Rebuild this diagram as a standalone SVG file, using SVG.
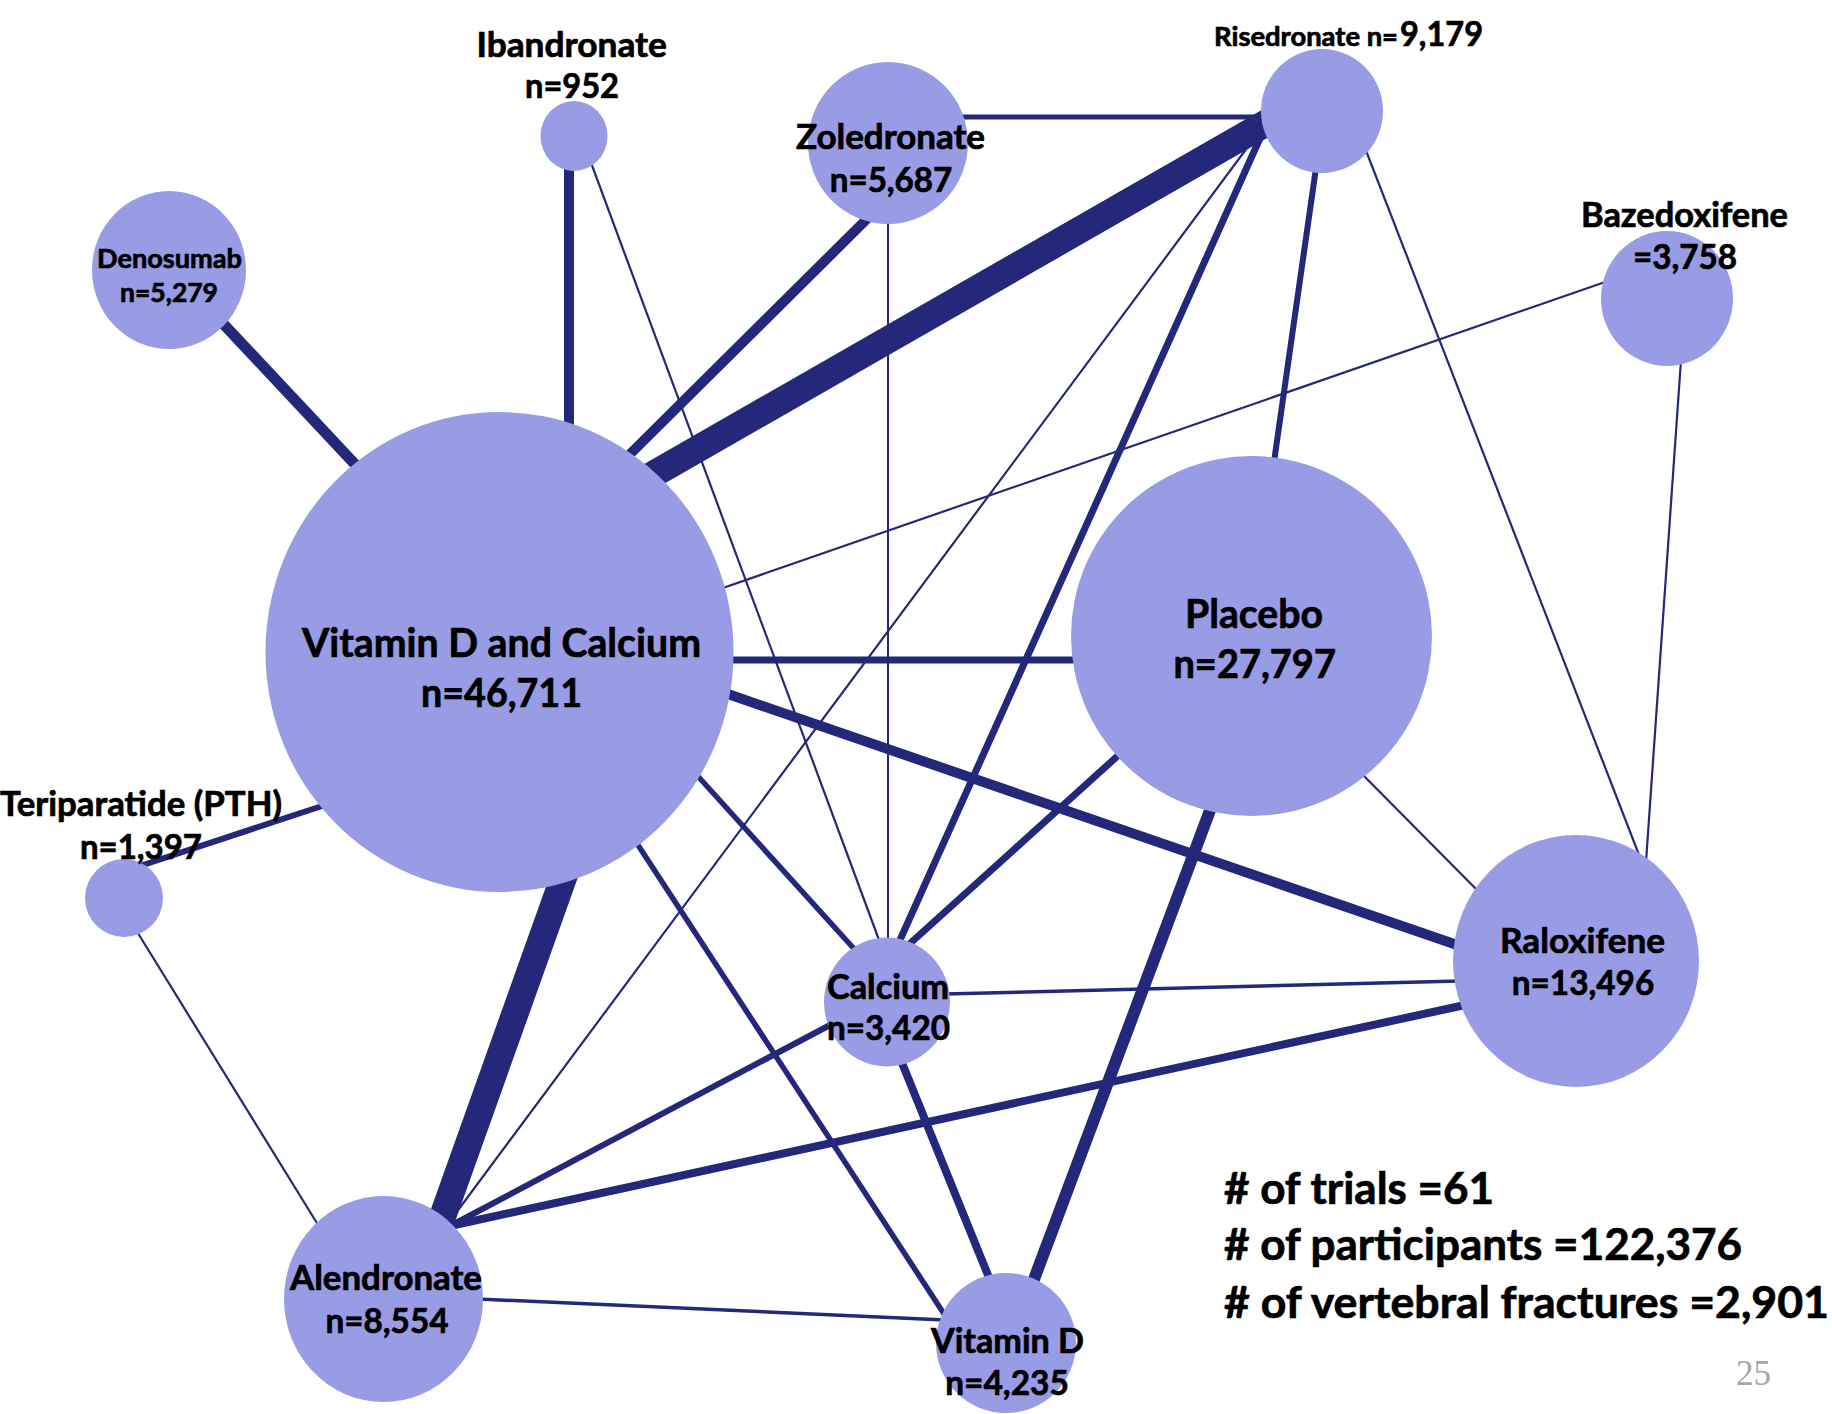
<svg xmlns="http://www.w3.org/2000/svg" width="1832" height="1414" viewBox="0 0 1832 1414">
  <style>
    .e { stroke: #23287a; fill: none; stroke-linecap: butt; }
    .n { fill: #989ce5; }
    .t { font-family: Lato, "Open Sans", "Liberation Sans", sans-serif; font-weight: bold; fill: #000; stroke: #000; stroke-width: 0.7; text-anchor: middle; }
    .s { font-family: Lato, "Open Sans", "Liberation Sans", sans-serif; font-weight: bold; fill: #000; stroke: #000; stroke-width: 0.7; }
    .pg { font-family: "Liberation Serif", "DejaVu Serif", serif; fill: #a6a6a6; }
  </style>
  <rect width="1832" height="1414" fill="#ffffff"/>

  <!-- connectors: stroke width reflects number of trials -->
  <g id="connectors">
    <line class="e" x1="215" y1="315" x2="366" y2="476" stroke-width="11"/>
    <line class="e" x1="569" y1="160" x2="569" y2="430" stroke-width="10"/>
    <line class="e" x1="590" y1="160" x2="882" y2="948" stroke-width="2.2"/>
    <line class="e" x1="876" y1="210" x2="622" y2="462" stroke-width="10"/>
    <line class="e" x1="888" y1="215" x2="888" y2="945" stroke-width="2"/>
    <line class="e" x1="955" y1="117" x2="1275" y2="117" stroke-width="5"/>
    <line class="e" x1="1275" y1="118" x2="640" y2="482" stroke-width="27"/>
    <line class="e" x1="1270" y1="117" x2="450" y2="1221" stroke-width="2.2"/>
    <line class="e" x1="1270" y1="116" x2="900" y2="940" stroke-width="7"/>
    <line class="e" x1="1316" y1="168" x2="1274" y2="462" stroke-width="6"/>
    <line class="e" x1="1365" y1="148" x2="1641" y2="860" stroke-width="2.2"/>
    <line class="e" x1="1608" y1="281" x2="720" y2="589" stroke-width="2.2"/>
    <line class="e" x1="1681" y1="360" x2="1646" y2="862" stroke-width="2.2"/>
    <line class="e" x1="725" y1="660" x2="1080" y2="660" stroke-width="7"/>
    <line class="e" x1="725" y1="693" x2="1460" y2="946" stroke-width="10"/>
    <line class="e" x1="695" y1="773" x2="866" y2="962" stroke-width="5.5"/>
    <line class="e" x1="636" y1="842" x2="948" y2="1320" stroke-width="5.5"/>
    <line class="e" x1="568" y1="865" x2="436" y2="1235" stroke-width="27"/>
    <line class="e" x1="140" y1="866" x2="325" y2="805" stroke-width="6"/>
    <line class="e" x1="136" y1="930" x2="320" y2="1228" stroke-width="2.2"/>
    <line class="e" x1="1122" y1="752" x2="905" y2="948" stroke-width="7"/>
    <line class="e" x1="1212" y1="805" x2="1030" y2="1290" stroke-width="12"/>
    <line class="e" x1="1360" y1="772" x2="1480" y2="893" stroke-width="2.2"/>
    <line class="e" x1="945" y1="994" x2="1460" y2="981" stroke-width="3.5"/>
    <line class="e" x1="832" y1="1024" x2="450" y2="1226" stroke-width="6"/>
    <line class="e" x1="900" y1="1058" x2="992" y2="1285" stroke-width="8"/>
    <line class="e" x1="450" y1="1226" x2="1465" y2="1005" stroke-width="8"/>
    <line class="e" x1="478" y1="1299" x2="945" y2="1320" stroke-width="3.5"/>
  </g>

  <!-- treatment nodes: area reflects number of participants -->
  <g id="vitd-calcium">
    <ellipse class="n" cx="499.5" cy="652" rx="234" ry="240"/>
    <text class="t" x="501.5" y="657" font-size="40" textLength="399" lengthAdjust="spacingAndGlyphs">Vitamin D and Calcium</text>
    <text class="t" x="501.5" y="707" font-size="40" textLength="161" lengthAdjust="spacingAndGlyphs">n=46,711</text>
  </g>
  <g id="placebo">
    <ellipse class="n" cx="1251.5" cy="636" rx="180.5" ry="180"/>
    <text class="t" x="1254" y="628" font-size="40" textLength="138" lengthAdjust="spacingAndGlyphs">Placebo</text>
    <text class="t" x="1254.7" y="678" font-size="40" textLength="162.5" lengthAdjust="spacingAndGlyphs">n=27,797</text>
  </g>
  <g id="raloxifene">
    <ellipse class="n" cx="1576" cy="961" rx="123" ry="126"/>
    <text class="t" x="1582.5" y="953" font-size="34" textLength="165" lengthAdjust="spacingAndGlyphs">Raloxifene</text>
    <text class="t" x="1583" y="995" font-size="34" textLength="142.5" lengthAdjust="spacingAndGlyphs">n=13,496</text>
  </g>
  <g id="calcium">
    <ellipse class="n" cx="887" cy="1002" rx="63" ry="64.5"/>
    <text class="t" x="888" y="999" font-size="34" textLength="122" lengthAdjust="spacingAndGlyphs">Calcium</text>
    <text class="t" x="888.5" y="1040" font-size="34" textLength="123" lengthAdjust="spacingAndGlyphs">n=3,420</text>
  </g>
  <g id="alendronate">
    <ellipse class="n" cx="383.5" cy="1299" rx="99.5" ry="103"/>
    <text class="t" x="386" y="1290" font-size="34" textLength="192" lengthAdjust="spacingAndGlyphs">Alendronate</text>
    <text class="t" x="387" y="1333" font-size="34" textLength="123" lengthAdjust="spacingAndGlyphs">n=8,554</text>
  </g>
  <g id="vitamin-d">
    <ellipse class="n" cx="1006" cy="1343" rx="70" ry="70"/>
    <text class="t" x="1007.5" y="1353" font-size="34" textLength="153" lengthAdjust="spacingAndGlyphs">Vitamin D</text>
    <text class="t" x="1007" y="1395" font-size="34" textLength="123.5" lengthAdjust="spacingAndGlyphs">n=4,235</text>
  </g>
  <g id="teriparatide">
    <ellipse class="n" cx="124" cy="898" rx="39" ry="39"/>
    <text class="t" x="141" y="816" font-size="34" textLength="282" lengthAdjust="spacingAndGlyphs">Teriparatide (PTH)</text>
    <text class="t" x="141" y="859" font-size="34" textLength="122" lengthAdjust="spacingAndGlyphs">n=1,397</text>
  </g>
  <g id="denosumab">
    <ellipse class="n" cx="169" cy="270" rx="77" ry="79"/>
    <text class="t" x="169.5" y="268" font-size="27" textLength="145" lengthAdjust="spacingAndGlyphs">Denosumab</text>
    <text class="t" x="169" y="302" font-size="27" textLength="98" lengthAdjust="spacingAndGlyphs">n=5,279</text>
  </g>
  <g id="ibandronate">
    <ellipse class="n" cx="574" cy="136" rx="33.5" ry="35"/>
    <text class="t" x="571.7" y="57" font-size="34" textLength="190.5" lengthAdjust="spacingAndGlyphs">Ibandronate</text>
    <text class="t" x="572" y="98" font-size="34" textLength="94" lengthAdjust="spacingAndGlyphs">n=952</text>
  </g>
  <g id="zoledronate">
    <ellipse class="n" cx="888" cy="143" rx="80" ry="81"/>
    <text class="t" x="890.5" y="149" font-size="34" textLength="189" lengthAdjust="spacingAndGlyphs">Zoledronate</text>
    <text class="t" x="891" y="192" font-size="34" textLength="122.5" lengthAdjust="spacingAndGlyphs">n=5,687</text>
  </g>
  <g id="risedronate">
    <ellipse class="n" cx="1322" cy="111" rx="61" ry="62"/>
    <text class="s" x="1214" y="46" font-size="27" textLength="184" lengthAdjust="spacingAndGlyphs">Risedronate n=</text>
    <text class="s" x="1400" y="46" font-size="35" textLength="83" lengthAdjust="spacingAndGlyphs">9,179</text>
  </g>
  <g id="bazedoxifene">
    <ellipse class="n" cx="1667" cy="298.5" rx="66" ry="67.5"/>
    <text class="t" x="1684.5" y="227" font-size="34" textLength="207" lengthAdjust="spacingAndGlyphs">Bazedoxifene</text>
    <text class="t" x="1685" y="269" font-size="34" textLength="104" lengthAdjust="spacingAndGlyphs">=3,758</text>
  </g>

  <!-- network totals -->
  <g id="totals">
    <text class="s" x="1224" y="1204" font-size="44" textLength="270" lengthAdjust="spacingAndGlyphs"># of trials =61</text>
    <text class="s" x="1224" y="1260" font-size="44" textLength="518" lengthAdjust="spacingAndGlyphs"># of participants =122,376</text>
    <text class="s" x="1224" y="1318" font-size="44" textLength="605" lengthAdjust="spacingAndGlyphs"># of vertebral fractures =2,901</text>
  </g>
  <text class="pg" x="1736" y="1385" font-size="36" textLength="35" lengthAdjust="spacingAndGlyphs">25</text>
</svg>
